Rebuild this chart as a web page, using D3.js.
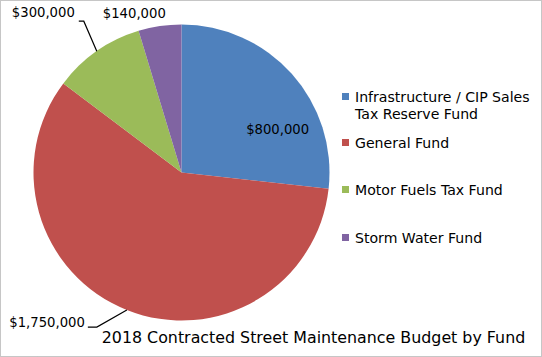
<!DOCTYPE html>
<html><head><meta charset="utf-8">
<script src="https://cdn.jsdelivr.net/npm/d3@7"></script>
<style>body{margin:0;background:#fff}svg{display:block}text{font-family:Tahoma,"DejaVu Sans",Verdana,sans-serif;fill:#000}</style>
</head><body>
<script>
const categories = ["Infrastructure / CIP Sales Tax Reserve Fund","General Fund","Motor Fuels Tax Fund","Storm Water Fund"];
const legendLines = [["Infrastructure / CIP Sales","Tax Reserve Fund"],["General Fund"],["Motor Fuels Tax Fund"],["Storm Water Fund"]];
const values = [800000,1750000,300000,140000];
const valueLabels = ["$800,000","$1,750,000","$300,000","$140,000"];
const colors = ["#4F81BD","#C0504D","#9BBB59","#8064A2"];
const title = "2018 Contracted Street Maintenance Budget by Fund";

const W=542,H=357;
const svg=d3.select("body").append("svg").attr("width",W).attr("height",H);
svg.append("rect").attr("x",0.5).attr("y",0.5).attr("width",W-1).attr("height",H-1)
  .attr("fill","#fff").attr("stroke","#8c8c8c").attr("stroke-width",1).attr("stroke-dasharray","1,1");

const cx=181.5,cy=172.5,r=148;
const pie=d3.pie().sort(null).value(d=>d)(values);
const arc=d3.arc().innerRadius(0).outerRadius(r);
const g=svg.append("g").attr("transform",`translate(${cx},${cy})`);
g.selectAll("path").data(pie).join("path").attr("d",arc).attr("fill",(d,i)=>colors[i]);

const fs=13.2;
// label inside blue slice
const a0=pie[0];
const midA0=a0.startAngle+(a0.endAngle-a0.startAngle)*0.68;
g.append("text").attr("x",Math.sin(midA0)*r*0.714).attr("y",-Math.cos(midA0)*r*0.714+5)
  .attr("text-anchor","middle").attr("font-size",fs).text(valueLabels[0]);

function edgePt(d,rr){const a=(d.startAngle+d.endAngle)/2;return [Math.sin(a)*rr,-Math.cos(a)*rr];}
const lineGen=d3.line();
// General fund
{const p=edgePt(pie[1],r);
 const line=[[p[0],p[1]],[p[0]-30,p[1]+17],[p[0]-39,p[1]+17]];
 g.append("path").attr("d",lineGen(line)).attr("fill","none").attr("stroke","#000").attr("stroke-width",1.2);
 g.append("text").attr("x",p[0]-42).attr("y",p[1]+17).attr("text-anchor","end").attr("font-size",fs).text(valueLabels[1]);}
// Motor fuels
{const p=edgePt(pie[2],r);
 const line=[[p[0],p[1]],[p[0]-13,p[1]-30],[p[0]-18,p[1]-30]];
 g.append("path").attr("d",lineGen(line)).attr("fill","none").attr("stroke","#000").attr("stroke-width",1.2);
 g.append("text").attr("x",p[0]-22).attr("y",p[1]-34).attr("text-anchor","end").attr("font-size",fs).text(valueLabels[2]);}
// Storm water
{const p=edgePt(pie[3],r);
 g.append("text").attr("x",p[0]-25.5).attr("y",p[1]-8).attr("text-anchor","middle").attr("font-size",fs).text(valueLabels[3]);}

// legend
const leg=svg.append("g");
const legY=[102,148,195,243];
legendLines.forEach((lines,i)=>{
  leg.append("rect").attr("x",342).attr("y",legY[i]-9).attr("width",7).attr("height",7).attr("fill",colors[i]);
  lines.forEach((t,j)=>leg.append("text").attr("x",355).attr("y",legY[i]+j*17).attr("font-size",14.1).text(t));
});

svg.append("text").attr("x",313.5).attr("y",343).attr("text-anchor","middle").attr("font-size",15.85).text(title);
</script>
</body></html>
